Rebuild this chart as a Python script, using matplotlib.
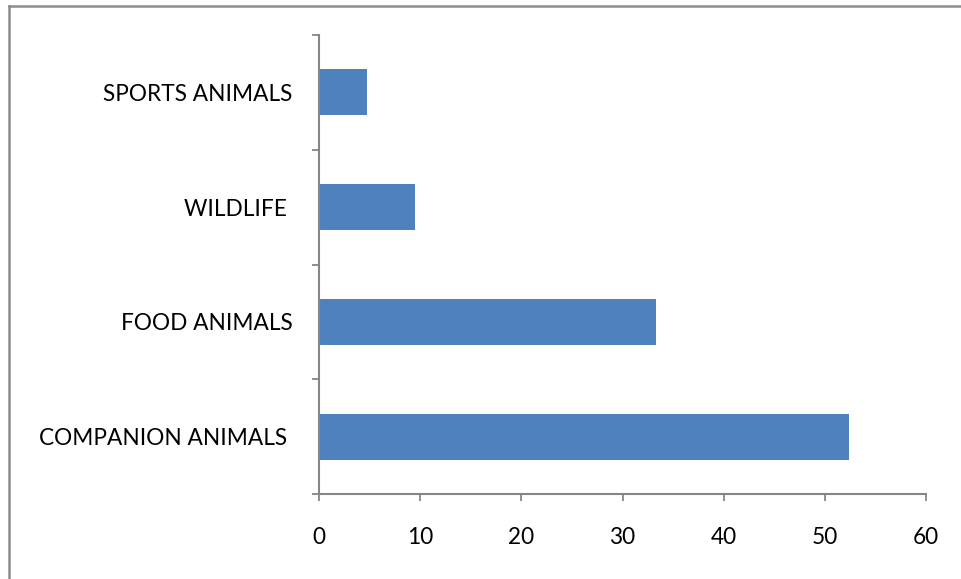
import matplotlib
matplotlib.use("Agg")
import matplotlib.pyplot as plt
from matplotlib.lines import Line2D

categories = ["COMPANION ANIMALS ", "FOOD ANIMALS", "WILDLIFE ", "SPORTS ANIMALS"]
values = [52.4, 33.3, 9.5, 4.7]
xticks = [0, 10, 20, 30, 40, 50, 60]

W, H = 961, 579
fig = plt.figure(figsize=(W / 100, H / 100), dpi=100)
plt.rcParams['font.family'] = ['Lato', 'DejaVu Sans']

ax = fig.add_axes([319 / W, 85 / H, (926 - 319) / W, (494 - 35) / H])
pos = list(range(len(categories)))
ax.barh(pos, values, height=0.4, color="#4F81BD")
ax.set_xlim(0, 60)
ax.set_ylim(-0.5, len(categories) - 0.5)
ax.set_xticks(xticks)
ax.set_xticklabels([str(t) for t in xticks], fontsize=16.3)
ax.set_yticks(pos)
ax.set_yticklabels(categories, fontsize=16.3)
ax.set_yticks([p - 0.5 for p in pos] + [len(categories) - 0.5], minor=True)
ax.tick_params(axis="y", which="major", length=0, pad=19)
ax.tick_params(axis="y", which="minor", length=5, width=1.3, color="#868686", direction="out")
ax.tick_params(axis="x", length=5, width=1.3, color="#868686", direction="out", pad=18.5)
for s in ["top", "right"]:
    ax.spines[s].set_visible(False)
for s in ["left", "bottom"]:
    ax.spines[s].set_color("#868686")
    ax.spines[s].set_linewidth(1.5)

# outer frame (top and left visible in reference)
fig.add_artist(Line2D([9 / W, 1.0], [1 - 6 / H, 1 - 6 / H], transform=fig.transFigure, color="#8c8c8c", lw=1.8))
fig.add_artist(Line2D([9 / W, 9 / W], [0, 1 - 6 / H], transform=fig.transFigure, color="#8c8c8c", lw=1.8))

fig.savefig("out.png", dpi=100)
